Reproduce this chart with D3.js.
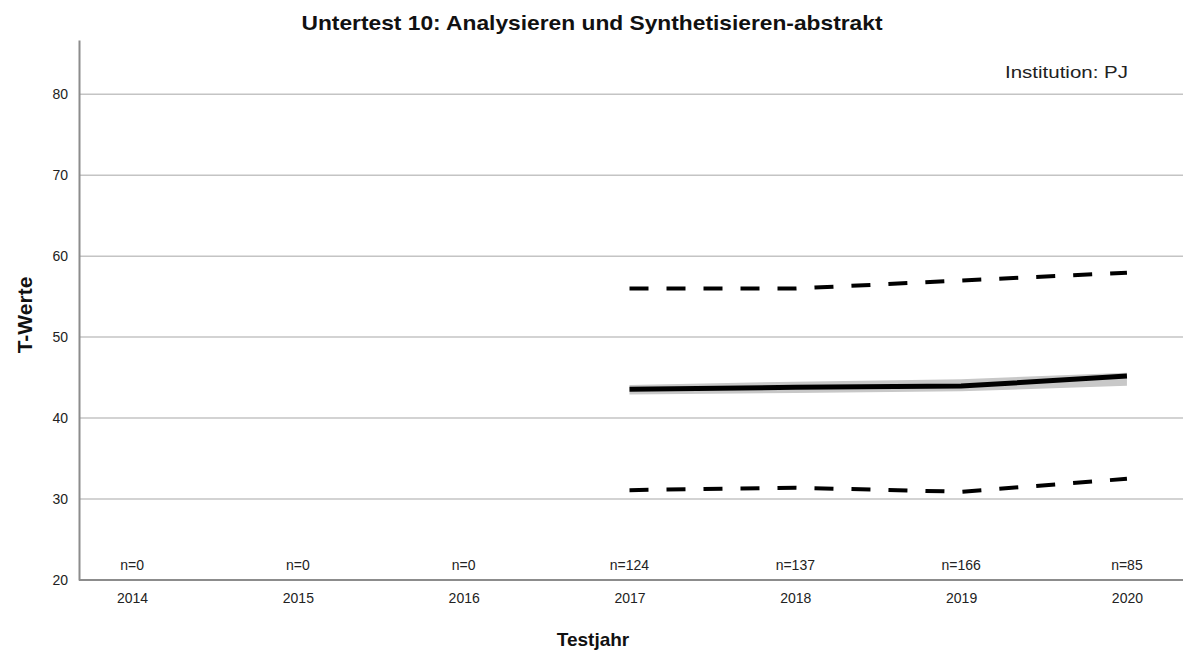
<!DOCTYPE html>
<html><head><meta charset="utf-8">
<script src="https://cdn.jsdelivr.net/npm/d3@7"></script>
<style>body{margin:0;background:#fff;} text{font-family:"Liberation Sans",Arial,sans-serif;}</style>
</head><body>
<svg id="c" width="1183" height="655"></svg>
<script>
const years = [2014, 2015, 2016, 2017, 2018, 2019, 2020];
const nLabels = ["n=0", "n=0", "n=0", "n=124", "n=137", "n=166", "n=85"];
const dataYears = [2017, 2018, 2019, 2020];
const mean = [43.55, 43.8, 43.95, 45.2];
const upper = [56.0, 56.0, 57.0, 57.95];
const lower = [31.1, 31.4, 30.9, 32.5];
const bandLow = [42.9, 43.1, 43.3, 44.0];
const bandHigh = [44.1, 44.5, 44.8, 45.6];
const yTicks = [20, 30, 40, 50, 60, 70, 80];

const svg = d3.select("#c");
const x = d3.scalePoint().domain(years).range([79, 1180]).padding(0.32);
const y = d3.scaleLinear().domain([20, 86.7]).range([580, 40]);

// gridlines
svg.append("g").selectAll("line").data(yTicks.filter(d => d > 20)).join("line")
  .attr("x1", 79).attr("x2", 1183).attr("y1", d => y(d)).attr("y2", d => y(d))
  .attr("stroke", "#c4c4c4").attr("stroke-width", 1.5);

// axes
const yAxis = svg.append("g").attr("transform", "translate(79,0)")
  .call(d3.axisLeft(y).tickValues(yTicks).tickSize(0).tickPadding(11));
yAxis.select(".domain").attr("stroke", "#8c8c8c").attr("stroke-width", 2);
yAxis.selectAll("text").attr("font-size", 14).attr("fill", "#222");

const xAxis = svg.append("g").attr("transform", "translate(0,580)")
  .call(d3.axisBottom(x).tickSize(0).tickPadding(13));
xAxis.select(".domain").attr("stroke", "#8c8c8c").attr("stroke-width", 2).attr("d", "M79,0H1183");
xAxis.selectAll("text").attr("font-size", 14).attr("fill", "#222");

// n labels
svg.append("g").selectAll("text").data(years).join("text")
  .attr("x", d => x(d)).attr("y", 570).attr("text-anchor", "middle")
  .attr("font-size", 14).attr("fill", "#222").text((d, i) => nLabels[i]);

const pts = dataYears.map((d, i) => ({yr: d, m: mean[i], u: upper[i], l: lower[i], bl: bandLow[i], bh: bandHigh[i]}));

// band
svg.append("path").datum(pts)
  .attr("d", d3.area().x(d => x(d.yr)).y0(d => y(d.bl)).y1(d => y(d.bh)))
  .attr("fill", "#c8c8c8");

// mean line
svg.append("path").datum(pts)
  .attr("d", d3.line().x(d => x(d.yr)).y(d => y(d.m)))
  .attr("fill", "none").attr("stroke", "#000").attr("stroke-width", 5);

// dashed
["u", "l"].forEach(k => {
  svg.append("path").datum(pts)
    .attr("d", d3.line().x(d => x(d.yr)).y(d => y(d[k])))
    .attr("fill", "none").attr("stroke", "#000").attr("stroke-width", 4)
    .attr("stroke-dasharray", "19,18");
});

// title
svg.append("text").attr("x", 592).attr("y", 30).attr("text-anchor", "middle")
  .attr("font-size", 21).attr("font-weight", "bold").attr("fill", "#111")
  .attr("textLength", 581).attr("lengthAdjust", "spacingAndGlyphs")
  .text("Untertest 10: Analysieren und Synthetisieren-abstrakt");

svg.append("text").attr("x", 1005).attr("y", 78)
  .attr("font-size", 17).attr("fill", "#222")
  .attr("textLength", 123).attr("lengthAdjust", "spacingAndGlyphs")
  .text("Institution: PJ");

svg.append("text").attr("x", 593).attr("y", 646).attr("text-anchor", "middle")
  .attr("font-size", 19).attr("font-weight", "bold").attr("fill", "#111").text("Testjahr");

svg.append("text").attr("transform", "translate(32,315) rotate(-90)").attr("text-anchor", "middle")
  .attr("font-size", 21).attr("font-weight", "bold").attr("fill", "#111").text("T-Werte");
</script>
</body></html>
